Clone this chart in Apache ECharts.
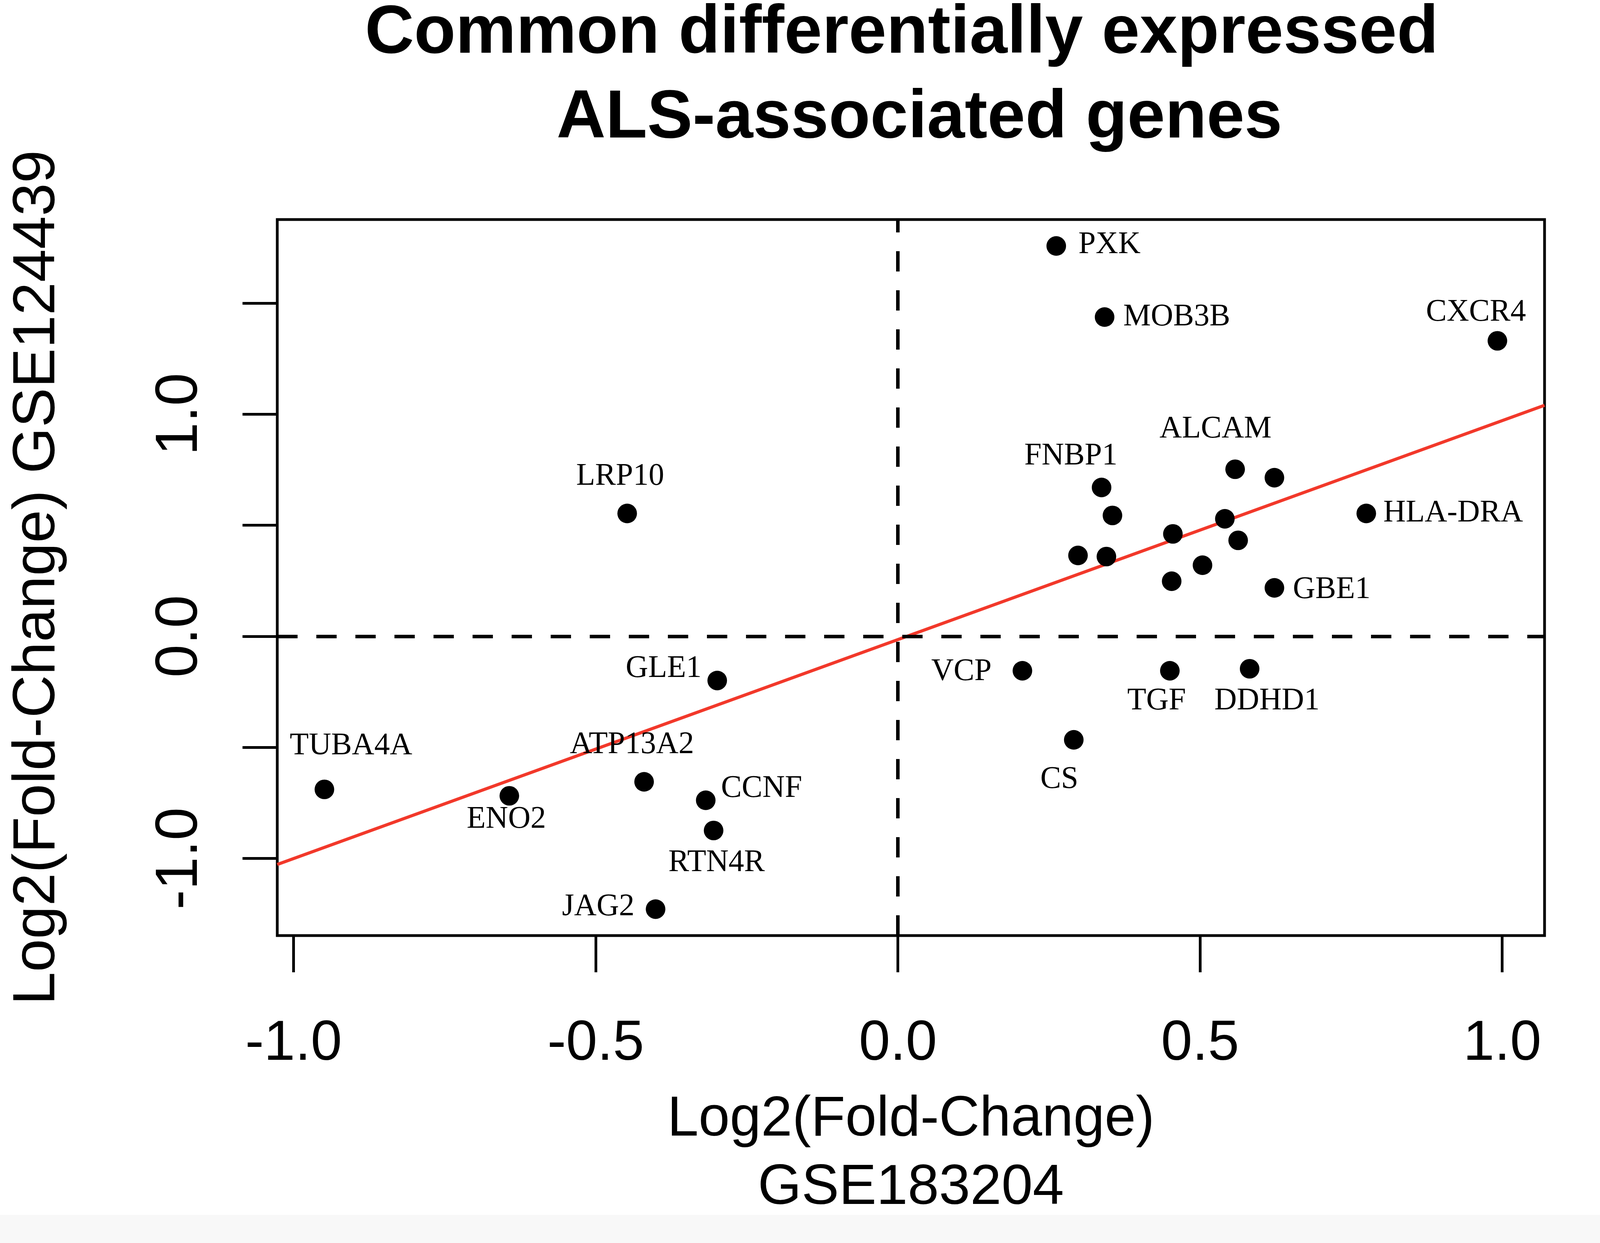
<!DOCTYPE html>
<html>
<head>
<meta charset="utf-8">
<script src="https://cdn.jsdelivr.net/npm/echarts@6/dist/echarts.min.js"></script>
<style>
  html, body { margin: 0; padding: 0; background: #fff; overflow: hidden; }
  #main { width: 100vw; height: 100vh; }
</style>
</head>
<body>
<div id="main"></div>
<script>
// gene labels ('' = unlabelled point)
var genes = ['PXK', 'MOB3B', 'CXCR4', 'FNBP1', 'ALCAM', '', '', 'HLA-DRA', '', '', '', '', '', '', '', 'GBE1',
  'VCP', 'TGF', 'DDHD1', 'CS', 'LRP10', 'GLE1', 'TUBA4A', 'ENO2', 'ATP13A2', 'CCNF', 'RTN4R', 'JAG2'];
// Log2(Fold-Change) GSE183204
var fcX = [0.262, 0.342, 0.992, 0.337, 0.558, 0.623, 0.355, 0.775, 0.455, 0.541, 0.563, 0.298, 0.345, 0.504, 0.453, 0.623,
  0.206, 0.450, 0.582, 0.291, -0.448, -0.299, -0.949, -0.643, -0.420, -0.318, -0.305, -0.401];
// Log2(Fold-Change) GSE124439
var fcY = [1.757, 1.437, 1.330, 0.670, 0.752, 0.714, 0.544, 0.553, 0.461, 0.529, 0.432, 0.364, 0.359, 0.320, 0.248, 0.218,
  -0.155, -0.155, -0.146, -0.466, 0.553, -0.199, -0.689, -0.718, -0.655, -0.738, -0.874, -1.228];
// fitted line, read at the plot edges
var fitX = [-1.027, 1.070];
var fitY = [-1.027, 1.040];
var xTicks = [-1, -0.5, 0, 0.5, 1];
var yTicks = [-1, -0.5, 0, 0.5, 1, 1.5];
var yTickLabels = [-1, 0, 1];

// layout was measured on a 4328x3182 canvas; scale to whatever the window really is
var el = document.getElementById('main');
var kx = el.clientWidth / 4328;
var ky = el.clientHeight / 3182;
function X(v) { return v * kx; }
function Y(v) { return v * ky; }

// where each gene name sits relative to its point (px on the 4328x3182 canvas)
var labelOffset = {
  'PXK': [144, -3], 'MOB3B': [195, 0], 'CXCR4': [-58, -72], 'FNBP1': [-83, -80], 'ALCAM': [-53, -102],
  'HLA-DRA': [235, 0], 'GBE1': [155, 5], 'VCP': [-165, 3], 'TGF': [-36, 78], 'DDHD1': [47, 83],
  'CS': [-39, 102], 'LRP10': [-19, -94], 'GLE1': [-145, -30], 'TUBA4A': [72, -111], 'ENO2': [-8, 61],
  'ATP13A2': [-33, -94], 'CCNF': [151, -30], 'RTN4R': [8, 83], 'JAG2': [-155, -5]
};

var points = genes.map(function (g, i) {
  return {
    name: g,
    value: [fcX[i], fcY[i]],
    label: g ? { show: true, offset: [X(labelOffset[g][0]), Y(labelOffset[g][1])] } : { show: false }
  };
});

var sans = 'Liberation Sans, Arial, sans-serif';
var serif = 'Liberation Serif, Times New Roman, serif';

var myChart = echarts.init(el);
var option = {
  animation: false,
  backgroundColor: '#fff',
  title: [
    {
      text: 'Common differentially expressed',
      left: X(2439), top: Y(87), padding: 0,
      textAlign: 'center', textVerticalAlign: 'middle',
      textStyle: { fontFamily: sans, fontSize: X(184), fontWeight: 'bold', color: '#000' }
    },
    {
      text: 'ALS-associated genes',
      left: X(2487), top: Y(304), padding: 0,
      textAlign: 'center', textVerticalAlign: 'middle',
      textStyle: { fontFamily: sans, fontSize: X(184), fontWeight: 'bold', color: '#000' }
    }
  ],
  graphic: [
    { type: 'rect', shape: { x: 0, y: Y(3110), width: X(4328), height: Y(72) }, style: { fill: '#f8f8f8' }, z: -10 }
  ],
  grid: {
    left: X(750),
    right: X(150),
    top: Y(562),
    bottom: Y(787),
    show: true,
    borderColor: '#000',
    borderWidth: 7,
    backgroundColor: 'transparent'
  },
  xAxis: {
    type: 'value',
    min: -1.027,
    max: 1.070,
    name: 'Log2(Fold-Change)\nGSE183204',
    nameLocation: 'middle',
    nameGap: Y(560),
    nameTextStyle: { fontFamily: sans, fontSize: X(152), color: '#000', lineHeight: Y(175), verticalAlign: 'middle' },
    axisLine: { show: false, onZero: false },
    axisTick: { show: true, length: Y(94), customValues: xTicks, lineStyle: { color: '#000', width: 7 } },
    axisLabel: {
      customValues: xTicks,
      margin: Y(278),
      verticalAlign: 'middle',
      fontFamily: sans, fontSize: X(152), color: '#000',
      formatter: function (v) { return v.toFixed(1); }
    },
    splitLine: { show: false }
  },
  yAxis: {
    type: 'value',
    min: -1.347,
    max: 1.876,
    name: 'Log2(Fold-Change) GSE124439',
    nameLocation: 'middle',
    nameRotate: 90,
    nameGap: X(647),
    nameTextStyle: { fontFamily: sans, fontSize: Y(152), color: '#000', align: 'center', verticalAlign: 'middle' },
    axisLine: { show: false, onZero: false },
    axisTick: { show: true, length: X(94), customValues: yTicks, lineStyle: { color: '#000', width: 7 } },
    axisLabel: {
      customValues: yTickLabels,
      rotate: 90,
      margin: X(262),
      align: 'center',
      verticalAlign: 'middle',
      fontFamily: sans, fontSize: Y(152), color: '#000',
      formatter: function (v) { return v.toFixed(1); }
    },
    splitLine: { show: false }
  },
  series: [
    {
      type: 'line',
      data: fitX.map(function (x, i) { return [x, fitY[i]]; }),
      showSymbol: false,
      lineStyle: { color: '#f2382a', width: 8 },
      z: 2,
      silent: true,
      markLine: {
        silent: true,
        symbol: ['none', 'none'],
        label: { show: false },
        lineStyle: { color: '#000', width: 9, type: [52, 48], opacity: 1 },
        data: [{ xAxis: 0 }, { yAxis: 0 }]
      }
    },
    {
      type: 'scatter',
      data: points,
      symbol: 'circle',
      symbolSize: X(53),
      itemStyle: { color: '#000', opacity: 1 },
      z: 3,
      label: {
        position: 'inside',
        align: 'center',
        verticalAlign: 'middle',
        fontFamily: serif,
        fontSize: X(84),
        color: '#000',
        formatter: '{b}'
      }
    }
  ]
};

myChart.setOption(option);
</script>
</body>
</html>
